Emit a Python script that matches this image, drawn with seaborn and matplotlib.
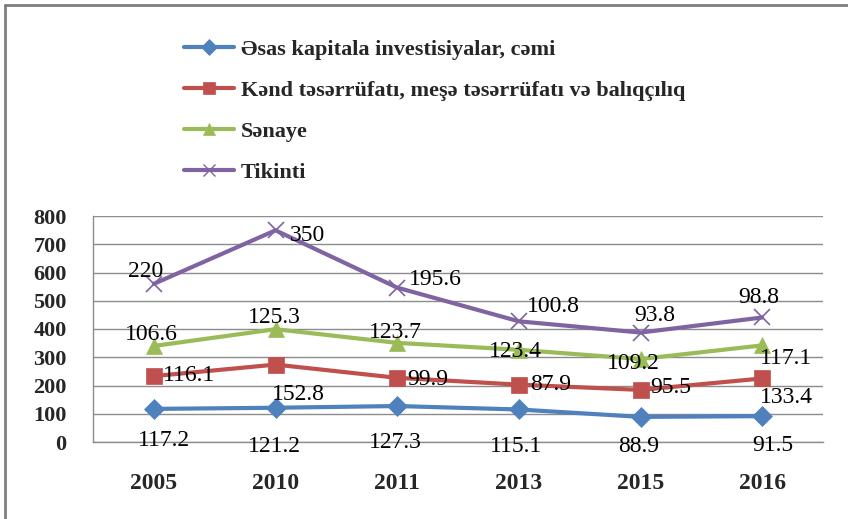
import numpy as np
import pandas as pd
import matplotlib.pyplot as plt
from matplotlib.lines import Line2D
import seaborn as sns

sns.set_style("white")
plt.rcParams["font.family"] = ["Liberation Serif", "DejaVu Serif"]
SERIF = "Liberation Serif"

# data
years = ["2005", "2010", "2011", "2013", "2015", "2016"]
names = ["Əsas kapitala investisiyalar, cəmi",
         "Kənd təsərrüfatı, meşə təsərrüfatı və balıqçılıq",
         "Sənaye",
         "Tikinti"]
esas = [117.2, 121.2, 127.3, 115.1, 88.9, 91.5]
kend = [116.1, 152.8, 99.9, 87.9, 95.5, 133.4]
senaye = [106.6, 125.3, 123.7, 123.4, 109.2, 117.1]
tikinti = [220, 350, 195.6, 100.8, 93.8, 98.8]

series = [esas, kend, senaye, tikinti]
colors = ["#4F81BD", "#C0504D", "#9BBB59", "#8064A2"]
markers = ["D", "s", "^", "x"]
msizes = [10, 11, 11, 11]

# label offsets in pixels (dx, dy) from each point
offsets = [
    [(10, -32), (-1, -39), (-2, -36), (-3, -37), (-2, -30), (11, -29)],
    [(35, 1), (23, -30), (31, -2), (32, 0), (30, 2), (24, -19)],
    [(-2, 11), (-1, 12), (-2, 10), (-3, -2), (-7, -4), (24, -13)],
    [(-8, 12), (32, -5), (38, 8), (35, 15), (14, 17), (-3, 20)],
]

# stacked line chart
stacked = np.cumsum(np.array(series, dtype=float), axis=0)

fig = plt.figure(figsize=(8.48, 5.19), dpi=100)
ax = fig.add_axes([93 / 848, 77 / 519, 730 / 848, 226 / 519])

handles = []
for i in range(4):
    sns.lineplot(x=years, y=stacked[i], ax=ax, color=colors[i], lw=3,
                 marker=markers[i], markersize=msizes[i],
                 markeredgecolor=colors[i],
                 markeredgewidth=1.2 if markers[i] == "x" else 0.5,
                 sort=False)
    handles.append(Line2D([], [], color=colors[i], lw=3, marker=markers[i],
                          markersize=msizes[i] * 0.8, markeredgecolor=colors[i],
                          markeredgewidth=1 if markers[i] == "x" else 0.5))
    for j in range(len(years)):
        ax.annotate(f"{series[i][j]:g}", (j, stacked[i][j]),
                    xytext=offsets[i][j], textcoords="offset pixels",
                    ha="center", va="center", fontsize=17, color="black",
                    family=SERIF)

ax.set_xlim(-0.5, 5.5)
ax.set_ylim(0, 800)
ax.set_yticks(range(0, 801, 100))
ax.set_xticks(range(6))
ax.set_xticklabels(years)
ax.set_xticks(np.arange(-0.5, 6, 1), minor=True)
ax.grid(axis="y", color="#8c8c8c", lw=1)
ax.set_axisbelow(True)
ax.set_xlabel("")
ax.set_ylabel("")

for s in ["top", "right"]:
    ax.spines[s].set_visible(False)
for s in ["left", "bottom"]:
    ax.spines[s].set_color("#8c8c8c")
    ax.spines[s].set_linewidth(1)

ax.tick_params(axis="y", which="major", direction="out", length=6, width=1,
               color="#8c8c8c", pad=13, labelsize=16)
ax.tick_params(axis="x", which="major", length=0, pad=22, labelsize=17)
ax.tick_params(axis="x", which="minor", direction="out", length=6, width=1,
               color="#8c8c8c")
for lab in ax.get_xticklabels() + ax.get_yticklabels():
    lab.set_fontweight("bold")
    lab.set_family(SERIF)

fig.legend(handles, names, loc="upper left",
           bbox_to_anchor=(173 / 848, 1 - 28 / 519), frameon=False,
           prop={"family": SERIF, "size": 16, "weight": "bold"},
           handlelength=2.25, handletextpad=0.3, labelspacing=0.92,
           borderpad=0)

# outer frame (left and top)
fig.add_artist(Line2D([5 / 848, 5 / 848], [0, 1 - 5 / 519],
                      transform=fig.transFigure, color="#7f7f7f", lw=2))
fig.add_artist(Line2D([5 / 848, 1], [1 - 5 / 519, 1 - 5 / 519],
                      transform=fig.transFigure, color="#7f7f7f", lw=2))

fig.savefig("out.png", dpi=100)
